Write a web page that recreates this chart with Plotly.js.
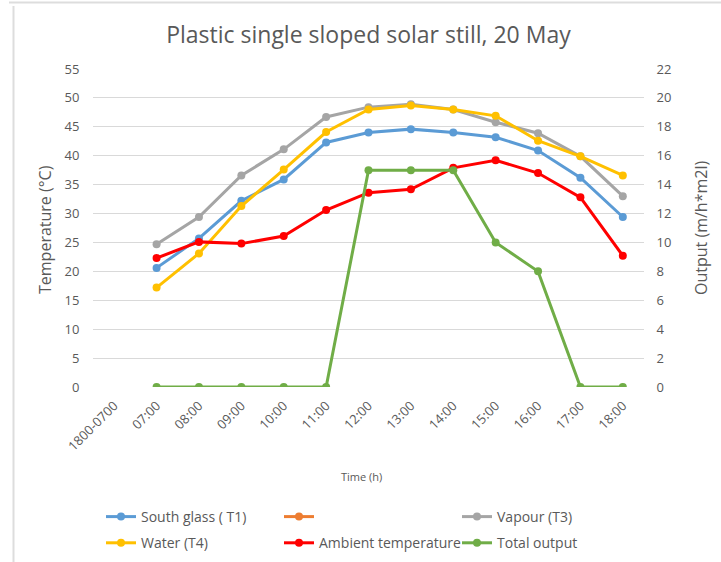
<!DOCTYPE html>
<html><head><meta charset="utf-8">
<script src="https://cdn.plot.ly/plotly-3.0.1.min.js"></script>
<style>body{margin:0;background:#fff}#c{width:721px;height:562px}</style>
</head><body><div id="c"></div>
<script>
const categories = ['1800-0700','07:00','08:00','09:00','10:00','11:00','12:00','13:00','14:00','15:00','16:00','17:00','18:00'];
const southGlassT1 = [null,20.6,25.7,32.2,35.9,42.3,44.0,44.6,44.0,43.2,40.9,36.2,29.4];
const seriesT2 = [null,null,null,null,null,null,null,null,null,null,null,null,null];
const vapourT3 = [null,24.7,29.4,36.6,41.1,46.7,48.4,48.9,48.0,45.8,43.9,39.9,33.0];
const waterT4 = [null,17.2,23.1,31.3,37.6,44.1,48.0,48.7,48.0,46.9,42.6,39.9,36.6];
const ambient = [null,22.3,25.1,24.8,26.1,30.6,33.6,34.2,37.9,39.2,37.0,32.8,22.7];
const totalOutput = [null,0,0,0,0,0,15,15,15,10,8,0,0];

const grey = '#595959';
const fnt = 'Open Sans, Liberation Sans, Arial, sans-serif';
function tr(name, y, color, legend, yaxis){
  return {x: categories, y: y, name: name, type:'scatter', mode:'lines+markers',
    line:{color:color, width:3}, marker:{color:color, size:8},
    legend: legend, legendgroup: name || 'blank', yaxis: yaxis || 'y', connectgaps:false};
}
const data = [
  tr('South glass ( T1)', southGlassT1, '#5B9BD5', 'legend'),
  tr(' ', seriesT2, '#ED7D31', 'legend2'),
  tr('Vapour (T3)', vapourT3, '#A5A5A5', 'legend3'),
  tr('Water (T4)', waterT4, '#FFC000', 'legend'),
  tr('Ambient temperature', ambient, '#FF0000', 'legend2'),
  tr('Total output', totalOutput, '#70AD47', 'legend3', 'y2')
];
function leg(xpx){
  return {xref:'container', yref:'container', x: xpx/721, y: 1-501/562, xanchor:'left', yanchor:'top',
    orientation:'v', font:{family:fnt, size:14, color:grey}, tracegroupgap:5, bgcolor:'rgba(0,0,0,0)'};
}
const px = v => (v-93)/551, py = v => (387-v)/318;
const layout = {
  width:721, height:562,
  margin:{l:93, r:77, t:69, b:175, autoexpand:false},
  paper_bgcolor:'#fff', plot_bgcolor:'#fff',
  font:{family:fnt, color:grey},
  title:{text:'Plastic single sloped solar still, 20 May', font:{family:fnt, size:23, color:grey}, x:0.511, xanchor:'center', y:1-35/562, yanchor:'middle'},
  xaxis:{type:'category', categoryorder:'array', categoryarray:categories, range:[-0.5,12.5], autorange:false,
    tickangle:-45, showgrid:false, zeroline:false, showline:false, ticks:'outside', ticklen:5, tickcolor:'rgba(0,0,0,0)', automargin:false,
    tickfont:{family:fnt, size:13, color:grey}},
  yaxis:{range:[0,55], autorange:false, dtick:5, showgrid:true, gridcolor:'#D9D9D9', gridwidth:1, zeroline:false, showline:false, automargin:false,
    ticks:'outside', ticklen:10, tickcolor:'rgba(0,0,0,0)', tickfont:{family:fnt, size:13, color:grey}},
  yaxis2:{range:[0,22], autorange:false, dtick:2, overlaying:'y', side:'right', showgrid:false, zeroline:false, showline:false, automargin:false,
    ticks:'outside', ticklen:9, tickcolor:'rgba(0,0,0,0)', tickfont:{family:fnt, size:13, color:grey}},
  legend: leg(101), legend2: leg(279), legend3: leg(457),
  shapes:[
    {type:'line', xref:'paper', yref:'paper', x0:px(9), x1:px(721), y0:py(2.5), y1:py(2.5), line:{color:'#DDDDDD', width:2}},
    {type:'line', xref:'paper', yref:'paper', x0:px(13.5), x1:px(13.5), y0:py(6), y1:py(562), line:{color:'#DDDDDD', width:2}}
  ],
  annotations:[
    {text:'Temperature (°C)', textangle:-90, xref:'paper', yref:'paper', x:px(45), y:py(230), xanchor:'center', yanchor:'middle', showarrow:false, font:{family:fnt, size:16, color:grey}},
    {text:'Output (m/h*m2l)', textangle:-90, xref:'paper', yref:'paper', x:px(701), y:py(228), xanchor:'center', yanchor:'middle', showarrow:false, font:{family:fnt, size:16, color:grey}},
    {text:'Time (h)', xref:'paper', yref:'paper', x:px(361), y:py(476), xanchor:'center', yanchor:'middle', showarrow:false, font:{family:fnt, size:11, color:grey}}
  ]
};
Plotly.newPlot('c', data, layout, {displayModeBar:false, staticPlot:true});
</script></body></html>
